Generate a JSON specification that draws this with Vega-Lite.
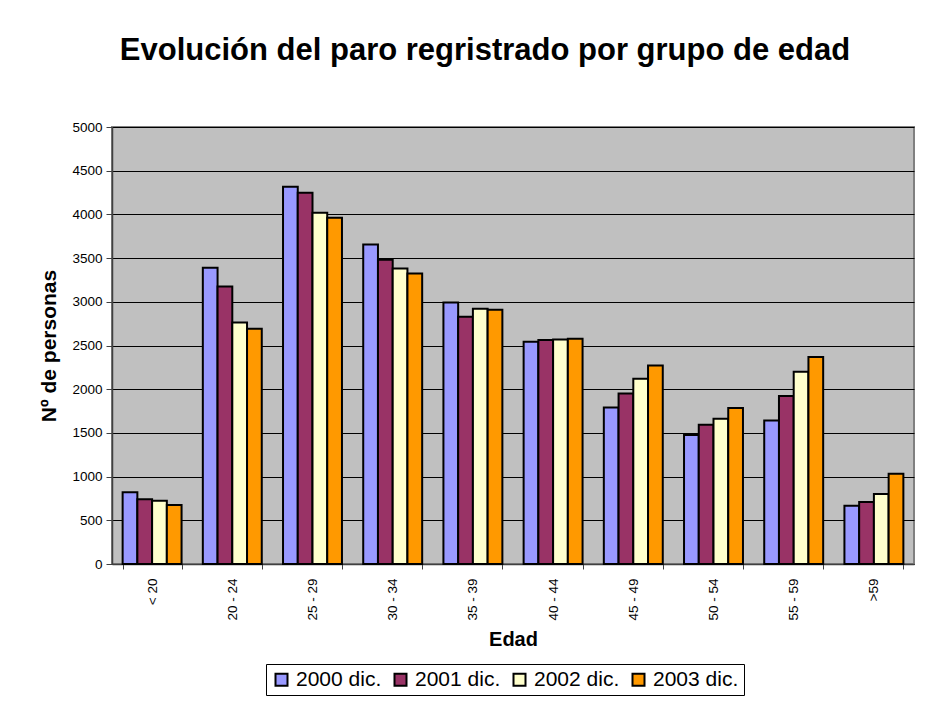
{
  "$schema": "https://vega.github.io/schema/vega-lite/v6.json",
  "width": 802,
  "height": 437,
  "autosize": {"type": "none"},
  "padding": {"left": 112, "top": 127, "right": 36, "bottom": 149},
  "background": "white",
  "title": {
    "text": "Evolución del paro regristrado por grupo de edad",
    "font": "Liberation Sans",
    "fontSize": 31,
    "fontWeight": "bold",
    "color": "black",
    "anchor": "middle",
    "frame": "group",
    "baseline": "alphabetic",
    "offset": 29,
    "dx": -28
  },
  "data": {
    "values": [
      {"grupo": "< 20", "serie": "2000 dic.", "personas": 820},
      {"grupo": "< 20", "serie": "2001 dic.", "personas": 742},
      {"grupo": "< 20", "serie": "2002 dic.", "personas": 724},
      {"grupo": "< 20", "serie": "2003 dic.", "personas": 674},
      {"grupo": "20 - 24", "serie": "2000 dic.", "personas": 3390},
      {"grupo": "20 - 24", "serie": "2001 dic.", "personas": 3176},
      {"grupo": "20 - 24", "serie": "2002 dic.", "personas": 2764},
      {"grupo": "20 - 24", "serie": "2003 dic.", "personas": 2692},
      {"grupo": "25 - 29", "serie": "2000 dic.", "personas": 4317},
      {"grupo": "25 - 29", "serie": "2001 dic.", "personas": 4248},
      {"grupo": "25 - 29", "serie": "2002 dic.", "personas": 4019},
      {"grupo": "25 - 29", "serie": "2003 dic.", "personas": 3962},
      {"grupo": "30 - 34", "serie": "2000 dic.", "personas": 3656},
      {"grupo": "30 - 34", "serie": "2001 dic.", "personas": 3481},
      {"grupo": "30 - 34", "serie": "2002 dic.", "personas": 3382},
      {"grupo": "30 - 34", "serie": "2003 dic.", "personas": 3325},
      {"grupo": "35 - 39", "serie": "2000 dic.", "personas": 2993},
      {"grupo": "35 - 39", "serie": "2001 dic.", "personas": 2829},
      {"grupo": "35 - 39", "serie": "2002 dic.", "personas": 2920},
      {"grupo": "35 - 39", "serie": "2003 dic.", "personas": 2909},
      {"grupo": "40 - 44", "serie": "2000 dic.", "personas": 2543},
      {"grupo": "40 - 44", "serie": "2001 dic.", "personas": 2562},
      {"grupo": "40 - 44", "serie": "2002 dic.", "personas": 2569},
      {"grupo": "40 - 44", "serie": "2003 dic.", "personas": 2577},
      {"grupo": "45 - 49", "serie": "2000 dic.", "personas": 1791},
      {"grupo": "45 - 49", "serie": "2001 dic.", "personas": 1952},
      {"grupo": "45 - 49", "serie": "2002 dic.", "personas": 2119},
      {"grupo": "45 - 49", "serie": "2003 dic.", "personas": 2272},
      {"grupo": "50 - 54", "serie": "2000 dic.", "personas": 1475},
      {"grupo": "50 - 54", "serie": "2001 dic.", "personas": 1593},
      {"grupo": "50 - 54", "serie": "2002 dic.", "personas": 1662},
      {"grupo": "50 - 54", "serie": "2003 dic.", "personas": 1784},
      {"grupo": "55 - 59", "serie": "2000 dic.", "personas": 1643},
      {"grupo": "55 - 59", "serie": "2001 dic.", "personas": 1921},
      {"grupo": "55 - 59", "serie": "2002 dic.", "personas": 2199},
      {"grupo": "55 - 59", "serie": "2003 dic.", "personas": 2367},
      {"grupo": ">59", "serie": "2000 dic.", "personas": 666},
      {"grupo": ">59", "serie": "2001 dic.", "personas": 708},
      {"grupo": ">59", "serie": "2002 dic.", "personas": 800},
      {"grupo": ">59", "serie": "2003 dic.", "personas": 1033}
    ]
  },
  "mark": {"type": "bar", "stroke": "black", "strokeWidth": 2},
  "encoding": {
    "x": {
      "field": "grupo",
      "type": "nominal",
      "sort": null,
      "scale": {"paddingInner": 0.265, "paddingOuter": 0.1325},
      "axis": {
        "title": "Edad",
        "titleFont": "Liberation Sans",
        "titleFontSize": 20,
        "titleFontWeight": "bold",
        "titleColor": "black",
        "titleBaseline": "alphabetic",
        "titleY": 81,
        "labelAngle": 270,
        "labelFont": "Liberation Sans",
        "labelFontSize": 13.5,
        "labelColor": "black",
        "labelPadding": 9,
        "tickBand": "extent",
        "tickSize": 5,
        "tickColor": "#404040",
        "domainColor": "#404040",
        "domainWidth": 1.5,
        "grid": false
      }
    },
    "xOffset": {
      "field": "serie",
      "type": "nominal",
      "scale": {"paddingInner": 0, "paddingOuter": 0}
    },
    "y": {
      "field": "personas",
      "type": "quantitative",
      "scale": {"domain": [0, 5000], "nice": false},
      "axis": {
        "title": "Nº de personas",
        "titleFont": "Liberation Sans",
        "titleFontSize": 21,
        "titleFontWeight": "bold",
        "titleColor": "black",
        "titleBaseline": "alphabetic",
        "titleX": -57,
        "values": [0, 500, 1000, 1500, 2000, 2500, 3000, 3500, 4000, 4500, 5000],
        "format": "d",
        "labelFont": "Liberation Sans",
        "labelFontSize": 13.5,
        "labelColor": "black",
        "labelPadding": 4,
        "tickSize": 6,
        "tickColor": "#404040",
        "domainColor": "#404040",
        "domainWidth": 1.5,
        "grid": true,
        "gridColor": "black",
        "gridWidth": 1,
        "gridOpacity": 1
      }
    },
    "color": {
      "field": "serie",
      "type": "nominal",
      "scale": {
        "domain": ["2000 dic.", "2001 dic.", "2002 dic.", "2003 dic."],
        "range": ["#9999FF", "#993366", "#FFFFCC", "#FF9900"]
      },
      "legend": {
        "title": null,
        "orient": "none",
        "legendX": 154,
        "legendY": 537,
        "direction": "horizontal",
        "strokeColor": "black",
        "fillColor": "white",
        "padding": 5,
        "symbolType": "square",
        "symbolSize": 144,
        "symbolStrokeColor": "black",
        "symbolStrokeWidth": 2,
        "symbolOpacity": 1,
        "labelFont": "Liberation Sans",
        "labelFontSize": 21,
        "labelColor": "black",
        "labelOffset": 4,
        "columnPadding": 8
      }
    }
  },
  "config": {
    "view": {"fill": "#C0C0C0", "stroke": "#808080", "strokeWidth": 2}
  }
}
